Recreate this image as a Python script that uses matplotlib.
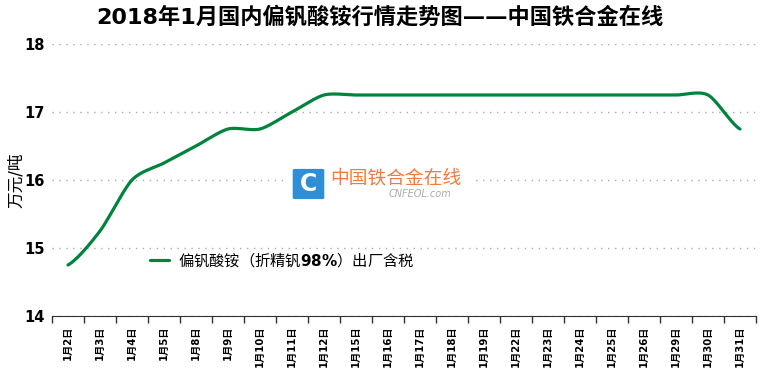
import numpy as np
import matplotlib.pyplot as plt
from matplotlib.patches import FancyBboxPatch, Rectangle

plt.rcParams['font.family'] = ['DejaVu Sans', 'Noto Sans CJK SC']

dates = ["1月2日", "1月3日", "1月4日", "1月5日", "1月8日", "1月9日", "1月10日",
         "1月11日", "1月12日", "1月15日", "1月16日", "1月17日", "1月18日", "1月19日",
         "1月22日", "1月23日", "1月24日", "1月25日", "1月26日", "1月29日", "1月30日",
         "1月31日"]
prices = [14.75, 15.25, 16.0, 16.25, 16.5, 16.75, 16.75, 17.0, 17.25, 17.25, 17.25,
          17.25, 17.25, 17.25, 17.25, 17.25, 17.25, 17.25, 17.25, 17.25, 17.25, 16.75]
series_name = "偏钒酸铵（折精钒$\\mathbf{98\\%}$）出厂含税"


def smooth(x, y, n=20):
    # catmull-rom style smoothing like the spreadsheet's smoothed line
    x = np.asarray(x, float)
    y = np.asarray(y, float)
    px = np.concatenate([[2 * x[0] - x[1]], x, [2 * x[-1] - x[-2]]])
    py = np.concatenate([[y[0]], y, [y[-1]]])
    xs, ys = [], []
    for i in range(1, len(px) - 2):
        t = np.linspace(0, 1, n, endpoint=False)
        for p, out in ((px, xs), (py, ys)):
            p0, p1, p2, p3 = p[i - 1], p[i], p[i + 1], p[i + 2]
            m1 = (p2 - p0) / 2 * 0.8
            m2 = (p3 - p1) / 2 * 0.8
            h00 = 2 * t**3 - 3 * t**2 + 1
            h10 = t**3 - 2 * t**2 + t
            h01 = -2 * t**3 + 3 * t**2
            h11 = t**3 - t**2
            out.extend(h00 * p1 + h10 * m1 + h01 * p2 + h11 * m2)
    xs.append(x[-1])
    ys.append(y[-1])
    return np.array(xs), np.array(ys)


fig = plt.figure(figsize=(7.6, 3.69), dpi=100)
ax = fig.add_axes([52 / 760, 53 / 369, 704 / 760, 272 / 369])

x = np.arange(len(dates))
sx, sy = smooth(x, prices)
ax.plot(sx, sy, color='#00843c', lw=2.3, label=series_name, solid_capstyle='round')

ax.set_xlim(-0.5, len(dates) - 0.5)
ax.set_ylim(14, 18)
ax.set_yticks([14, 15, 16, 17, 18])
ax.set_yticklabels(['14', '15', '16', '17', '18'], fontsize=10.5, fontweight='bold')
ax.yaxis.grid(True, linestyle=(0, (1, 4)), color='#aaaaaa', lw=1)
ax.set_axisbelow(True)
ax.tick_params(axis='y', length=0, pad=5)

ax.set_xticks(np.arange(-0.5, len(dates), 1), minor=False)
ax.set_xticklabels([])
ax.set_xticks(x, minor=True)
ax.set_xticklabels(dates, minor=True, rotation=90, fontsize=7.3, fontweight='bold')
ax.tick_params(axis='x', which='major', length=5, width=1, color='#333333')
ax.tick_params(axis='x', which='minor', length=0, pad=7)

for s in ['top', 'right', 'left']:
    ax.spines[s].set_visible(False)
ax.spines['bottom'].set_color('#333333')

ax.set_ylabel("万元/吨", fontsize=12)
ax.yaxis.set_label_coords(-0.038, 0.5)

fig.text(0.5, 0.955, "2018年1月国内偏钒酸铵行情走势图——中国铁合金在线",
         ha='center', va='center', fontsize=16, fontweight='bold')

ax.legend(loc='upper left', bbox_to_anchor=(0.12, 0.29), frameon=False,
          prop={'family': 'Noto Sans CJK SC', 'size': 11},
          handlelength=1.2, handletextpad=0.6)

# watermark
fig.patches.append(Rectangle((288 / 760, 166 / 369), 185 / 760, 38 / 369,
                             transform=fig.transFigure, facecolor='white',
                             edgecolor='none', zorder=4))
fig.patches.append(FancyBboxPatch((295 / 760, 171 / 369), 27 / 760, 28 / 369,
                                  boxstyle='round,pad=0.003', transform=fig.transFigure,
                                  facecolor='#2f8fd6', edgecolor='none', zorder=5))
fig.text(308.5 / 760, 185 / 369, "C", color='white', fontsize=17, fontweight='bold',
         ha='center', va='center', zorder=6)
fig.text(330 / 760, 191 / 369, "中国铁合金在线", color='#f27a3a', fontsize=13.5,
         ha='left', va='center', zorder=6)
fig.text(389 / 760, 175 / 369, "CNFEOL.com", color='#aaaaaa', fontsize=7,
         fontstyle='italic', ha='left', va='center', zorder=6)

fig.savefig('out.png', dpi=100)
